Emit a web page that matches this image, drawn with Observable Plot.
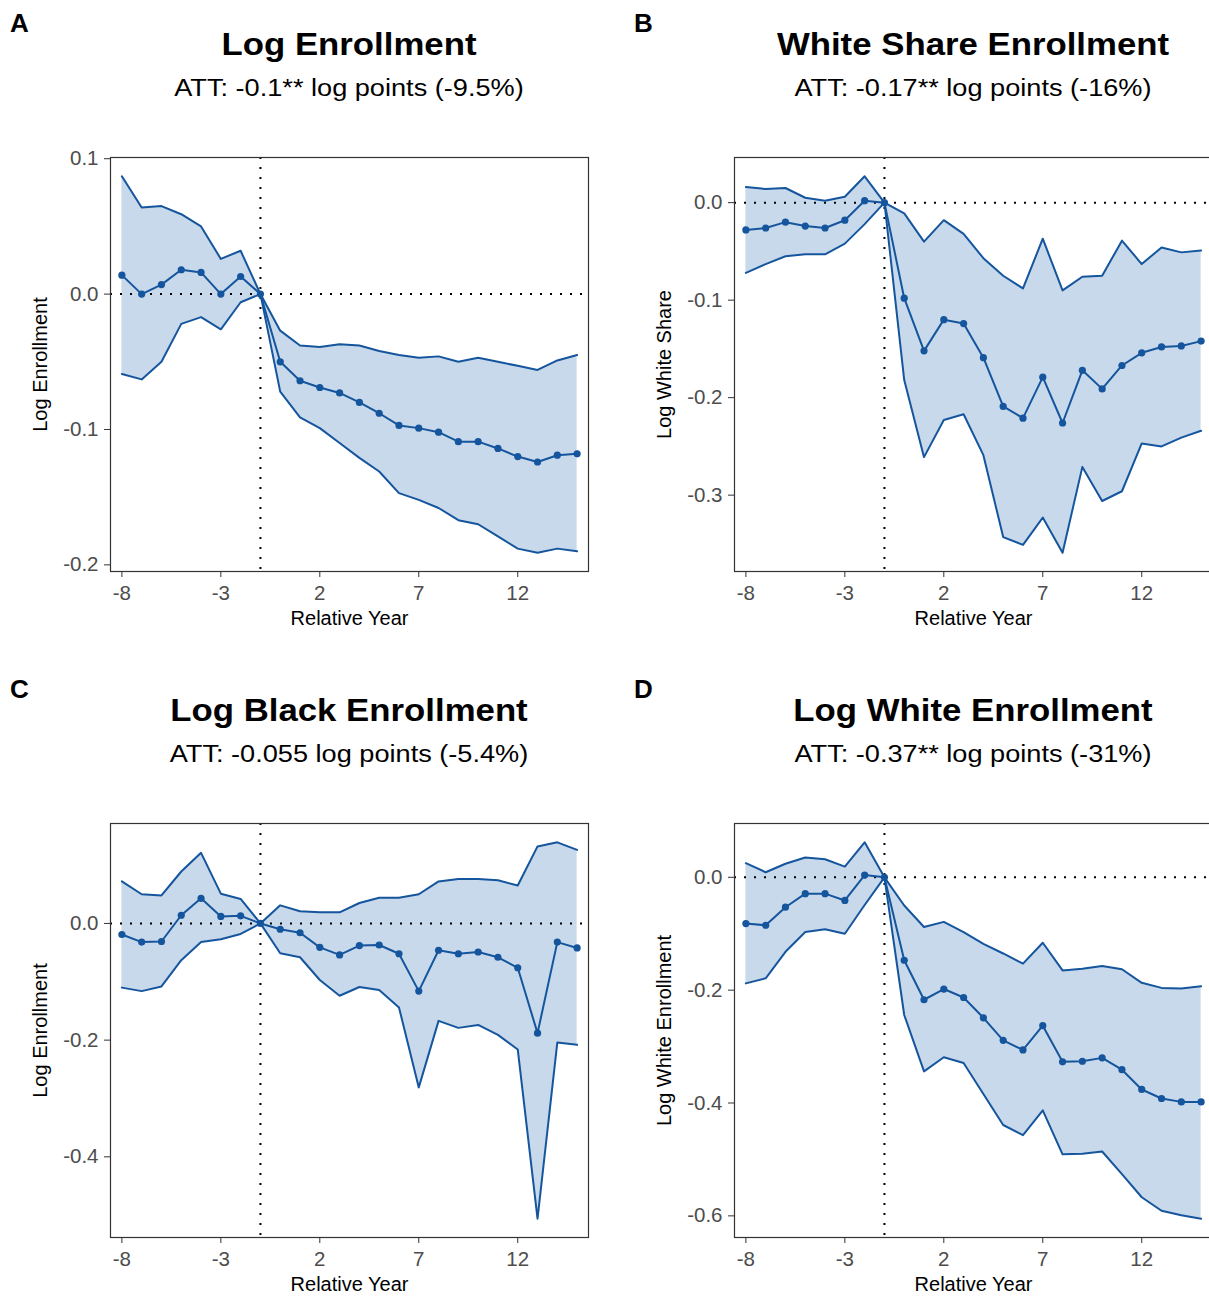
<!DOCTYPE html>
<html>
<head>
<meta charset="utf-8">
<script src="https://cdn.jsdelivr.net/npm/d3@7"></script>
<script src="https://cdn.jsdelivr.net/npm/@observablehq/plot@0.6"></script>
<style>
  html, body { margin: 0; padding: 0; background: #fff; }
  body {
    width: 1209px; height: 1297px; overflow: hidden; position: relative;
    font-family: "Liberation Sans", Arial, Helvetica, sans-serif; color: #000;
  }
  .tag, .title, .subtitle { position: absolute; line-height: 1; white-space: nowrap; }
  .tag { font-weight: bold; font-size: 26px; }
  .title { font-weight: bold; font-size: 30.5px; text-align: center; transform: scaleX(1.14); transform-origin: 50% 50%; }
  .subtitle { font-size: 23.5px; text-align: center; transform: scaleX(1.155); transform-origin: 50% 50%; }
  .chart { position: absolute; }
  .chart svg { overflow: visible; max-width: none !important; display: block; }
</style>
</head>
<body>
<script>
// Event-study estimates by year relative to treatment (reference year -1 normalised to 0)
const years = [-8, -7, -6, -5, -4, -3, -2, -1, 0, 1, 2, 3, 4, 5, 6, 7, 8, 9, 10, 11, 12, 13, 14, 15];
const refYear = -1;
const xTicks = [-8, -3, 2, 7, 12];

// A: log enrollment
const estA = [0.014, 0.0, 0.007, 0.018, 0.016, 0.0, 0.013, 0, -0.050, -0.064, -0.069, -0.073, -0.080, -0.088, -0.097, -0.099, -0.102, -0.109, -0.109, -0.114, -0.120, -0.124, -0.119, -0.118];
const hiA  = [0.087, 0.064, 0.065, 0.059, 0.050, 0.026, 0.032, 0, -0.027, -0.038, -0.039, -0.037, -0.038, -0.042, -0.045, -0.047, -0.046, -0.050, -0.047, -0.050, -0.053, -0.056, -0.049, -0.045];
const loA  = [-0.059, -0.063, -0.050, -0.022, -0.017, -0.026, -0.006, 0, -0.072, -0.091, -0.099, -0.110, -0.121, -0.131, -0.147, -0.152, -0.158, -0.167, -0.170, -0.179, -0.188, -0.191, -0.188, -0.190];

// B: log white share of enrollment
const estB = [-0.028, -0.026, -0.020, -0.024, -0.026, -0.018, 0.002, 0, -0.098, -0.152, -0.120, -0.124, -0.159, -0.209, -0.221, -0.179, -0.226, -0.172, -0.191, -0.167, -0.154, -0.148, -0.147, -0.142];
const hiB  = [0.016, 0.014, 0.015, 0.005, 0.002, 0.006, 0.027, 0, -0.011, -0.040, -0.018, -0.032, -0.057, -0.075, -0.088, -0.037, -0.090, -0.076, -0.075, -0.039, -0.063, -0.046, -0.051, -0.049];
const loB  = [-0.072, -0.063, -0.055, -0.053, -0.053, -0.042, -0.022, 0, -0.182, -0.261, -0.223, -0.217, -0.259, -0.343, -0.351, -0.323, -0.359, -0.271, -0.306, -0.296, -0.247, -0.250, -0.241, -0.234];

// C: log black enrollment
const estC = [-0.019, -0.032, -0.031, 0.014, 0.043, 0.012, 0.013, 0, -0.010, -0.016, -0.041, -0.054, -0.038, -0.037, -0.052, -0.116, -0.046, -0.052, -0.049, -0.058, -0.076, -0.188, -0.032, -0.042];
const hiC  = [0.072, 0.050, 0.048, 0.089, 0.121, 0.051, 0.042, 0, 0.031, 0.021, 0.019, 0.019, 0.035, 0.044, 0.044, 0.050, 0.072, 0.076, 0.076, 0.074, 0.065, 0.132, 0.139, 0.126];
const loC  = [-0.110, -0.116, -0.108, -0.063, -0.032, -0.027, -0.018, 0, -0.051, -0.058, -0.097, -0.124, -0.109, -0.114, -0.144, -0.281, -0.167, -0.179, -0.174, -0.191, -0.216, -0.506, -0.204, -0.208];

// D: log white enrollment
const estD = [-0.082, -0.085, -0.053, -0.029, -0.029, -0.041, 0.004, 0, -0.147, -0.217, -0.198, -0.213, -0.249, -0.289, -0.306, -0.263, -0.327, -0.326, -0.320, -0.341, -0.376, -0.392, -0.398, -0.398];
const hiD  = [0.025, 0.009, 0.024, 0.035, 0.032, 0.019, 0.062, 0, -0.050, -0.088, -0.079, -0.097, -0.118, -0.135, -0.153, -0.116, -0.165, -0.162, -0.157, -0.163, -0.187, -0.196, -0.197, -0.193];
const loD  = [-0.188, -0.179, -0.132, -0.097, -0.092, -0.100, -0.049, 0, -0.244, -0.344, -0.319, -0.329, -0.384, -0.439, -0.457, -0.413, -0.491, -0.490, -0.486, -0.526, -0.567, -0.591, -0.599, -0.605];

const panelTags = ["A", "B", "C", "D"];
const panelTitles = ["Log Enrollment", "White Share Enrollment", "Log Black Enrollment", "Log White Enrollment"];
const panelSubtitles = [
  "ATT: -0.1** log points (-9.5%)",
  "ATT: -0.17** log points (-16%)",
  "ATT: -0.055 log points (-5.4%)",
  "ATT: -0.37** log points (-31%)"
];
const yLabels = ["Log Enrollment", "Log White Share", "Log Enrollment", "Log White Enrollment"];
const yTicksA = [-0.2, -0.1, 0, 0.1];
const yTicksB = [-0.3, -0.2, -0.1, 0];
const yTicksC = [-0.4, -0.2, 0];
const yTicksD = [-0.6, -0.4, -0.2, 0];
const xLabel = "Relative Year";

// Styling
const FONT = '"Liberation Sans", Arial, Helvetica, sans-serif';
const LINE = "#15559d";
const RIBBON = "#c7d9eb";

// Panel geometry: plot frame left/top in page pixels, frame size
const FRAME_W = 478, FRAME_H = 414;
const M = {left: 110, right: 32, top: 17, bottom: 69};
const frames = [
  {L: 110, T: 157}, {L: 734, T: 157},
  {L: 110, T: 823}, {L: 734, T: 823}
];

const series = [
  {est: estA, lo: loA, hi: hiA, yTicks: yTicksA},
  {est: estB, lo: loB, hi: hiB, yTicks: yTicksB},
  {est: estC, lo: loC, hi: hiC, yTicks: yTicksC},
  {est: estD, lo: loD, hi: hiD, yTicks: yTicksD}
];

function addText(cls, text, left, baseline, fontSize, width) {
  const el = document.createElement("div");
  el.className = cls;
  el.textContent = text;
  el.style.left = left + "px";
  el.style.top = (baseline - 0.8465 * fontSize) + "px";
  if (width) el.style.width = width + "px";
  document.body.appendChild(el);
}

const xMin = d3.min(years), xMax = d3.max(years);
const xPad = 0.025 * (xMax - xMin);
const W = M.left + FRAME_W + M.right;
const H = M.top + FRAME_H + M.bottom;

series.forEach((s, k) => {
  const {L, T} = frames[k];
  const rows = years.map((t, i) => ({t, est: s.est[i], lo: s.lo[i], hi: s.hi[i]}));
  const yMin = d3.min(s.lo), yMax = d3.max(s.hi);
  const yPad = 0.05 * (yMax - yMin);

  // Headings
  addText("tag", panelTags[k], L - 100, T - 125, 26);
  addText("title", panelTitles[k], L, T - 102, 30.5, FRAME_W);
  addText("subtitle", panelSubtitles[k], L, T - 60.5, 23.5, FRAME_W);

  const chart = Plot.plot({
    width: W,
    height: H,
    marginLeft: M.left, marginRight: M.right, marginTop: M.top, marginBottom: M.bottom,
    style: {fontFamily: FONT, fontSize: "20.5px", background: "transparent", color: "#4d4d4d"},
    x: {domain: [xMin - xPad, xMax + xPad]},
    y: {domain: [yMin - yPad, yMax + yPad]},
    marks: [
      Plot.areaY(rows, {x: "t", y1: "lo", y2: "hi", fill: RIBBON}),
      Plot.ruleY([0], {stroke: "#000", strokeWidth: 2, strokeDasharray: "2,8"}),
      Plot.ruleX([refYear], {stroke: "#000", strokeWidth: 2, strokeDasharray: "2,8"}),
      Plot.lineY(rows, {x: "t", y: "hi", stroke: LINE, strokeWidth: 2}),
      Plot.lineY(rows, {x: "t", y: "lo", stroke: LINE, strokeWidth: 2}),
      Plot.lineY(rows, {x: "t", y: "est", stroke: LINE, strokeWidth: 2}),
      Plot.dot(rows, {x: "t", y: "est", r: 3.6, fill: LINE}),
      Plot.frame({stroke: "#333", strokeWidth: 1.2}),
      Plot.axisX({ticks: xTicks, tickFormat: d => String(d), tickSize: 6, tickPadding: 8,
                  stroke: "#333", fill: "#4d4d4d", label: null}),
      Plot.axisY({ticks: s.yTicks, tickFormat: d => d.toFixed(1), tickSize: 6, tickPadding: 6,
                  stroke: "#333", fill: "#4d4d4d", label: null}),
      Plot.text([xLabel], {text: d => d, frameAnchor: "bottom", lineAnchor: "middle", textAnchor: "middle",
                           dy: 47.5, fill: "#000", fontSize: 20}),
      Plot.text([yLabels[k]], {text: d => d, frameAnchor: "left", lineAnchor: "middle", textAnchor: "middle",
                               dx: -70, rotate: -90, fill: "#000", fontSize: 20})
    ]
  });
  const wrap = document.createElement("div");
  wrap.className = "chart";
  wrap.style.left = (L - M.left) + "px";
  wrap.style.top = (T - M.top) + "px";
  wrap.style.width = W + "px";
  wrap.style.height = H + "px";
  wrap.appendChild(chart);
  document.body.appendChild(wrap);
});
</script>
</body>
</html>
